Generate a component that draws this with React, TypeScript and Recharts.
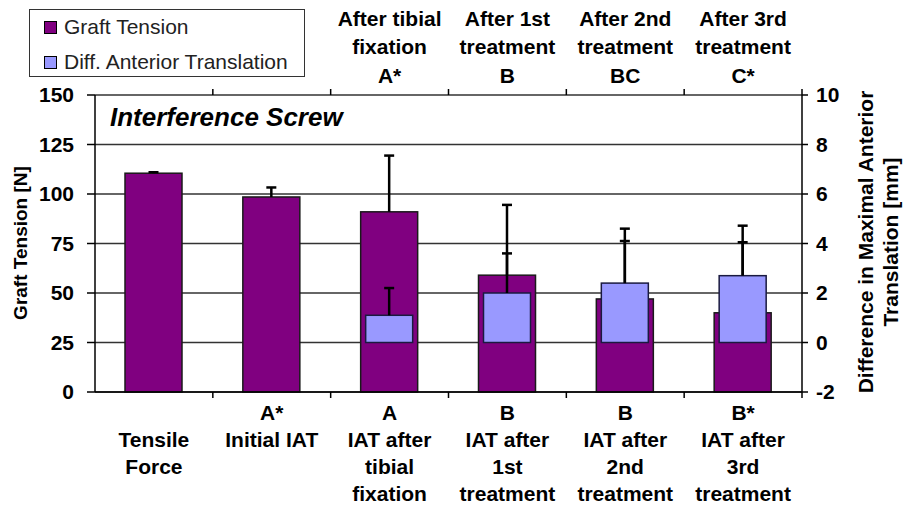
import React from 'react';
import { ComposedChart, Bar, XAxis, YAxis, CartesianGrid, Legend } from 'recharts';

const FONT = 'Arial, "Liberation Sans", Helvetica, sans-serif';

const categories = [
  'Tensile Force',
  'Initial IAT',
  'IAT after tibial fixation',
  'IAT after 1st treatment',
  'IAT after 2nd treatment',
  'IAT after 3rd treatment',
];
const bottomLabelLines: string[][] = [
  ['', 'Tensile', 'Force'],
  ['A*', 'Initial IAT'],
  ['A', 'IAT after', 'tibial', 'fixation'],
  ['B', 'IAT after', '1st', 'treatment'],
  ['B', 'IAT after', '2nd', 'treatment'],
  ['B*', 'IAT after', '3rd', 'treatment'],
];
const topLabelLines: string[][] = [
  [],
  [],
  ['After tibial', 'fixation', 'A*'],
  ['After 1st', 'treatment', 'B'],
  ['After 2nd', 'treatment', 'BC'],
  ['After 3rd', 'treatment', 'C*'],
];
const graftTension = [110.5, 98.5, 91, 59, 47, 40];
const graftTensionSD = [0.5, 4.8, 28.4, 35.5, 35.5, 44];
const diffTranslation: (number | null)[] = [null, null, 1.1, 2.0, 2.4, 2.7];
const diffTranslationSD: (number | null)[] = [null, null, 1.1, 1.6, 1.7, 1.35];
const leftTicks = [0, 25, 50, 75, 100, 125, 150];
const rightTicks = [-2, 0, 2, 4, 6, 8, 10];
const seriesNames = ['Graft Tension', 'Diff. Anterior Translation'];
const seriesColors = ['#800080', '#9999FF'];

const data = categories.map((name, i) => ({
  name,
  tension: graftTension[i],
  tensionSD: graftTensionSD[i],
  translation: diffTranslation[i],
  translationSD: diffTranslationSD[i],
}));

const BW_HALF = (802 - 95) / categories.length / 2;

// Bar with an upper-only error whisker; whisker length uses the bar's own pixel scale (height / value).
const makeBarWithError = (valueKey: string, sdKey: string, fill: string, stroke: string) => (props: any) => {
  const { x, y, width, height, payload } = props;
  const v = payload ? payload[valueKey] : null;
  const sd = payload ? payload[sdKey] : null;
  if (v == null || !isFinite(height) || height <= 0) return <g />;
  const pxPerUnit = height / v;
  const cx = x + width / 2;
  const yTop = y - (sd || 0) * pxPerUnit;
  return (
    <g>
      <rect x={x} y={y} width={width} height={height} fill={fill} stroke={stroke} strokeWidth={1.5} />
      {sd ? (
        <g stroke="#000" strokeWidth={2.5}>
          <line x1={cx} y1={y} x2={cx} y2={yTop} />
          <line x1={cx - 5} y1={yTop} x2={cx + 5} y2={yTop} />
        </g>
      ) : null}
    </g>
  );
};

const PurpleShape = makeBarWithError('tension', 'tensionSD', seriesColors[0], '#1a1a1a');
const BlueShape = makeBarWithError('translation', 'translationSD', seriesColors[1], '#1a1a40');

const BottomTick = (props: any) => {
  const { x, y, payload } = props;
  const idx = categories.indexOf(payload.value);
  const lines = bottomLabelLines[idx] || [];
  const half = payload.offset || BW_HALF;
  return (
    <g>
      <line x1={x + half} y1={y} x2={x + half} y2={y + 6} stroke="#000" strokeWidth={1.5} />
      {lines.map((t, i) =>
        t ? (
          <text key={i} x={x} y={y + 20 + i * 27.3} textAnchor="middle" dominantBaseline="central"
            fontSize={21} fontWeight="bold" fontFamily={FONT} fill="#000">{t}</text>
        ) : null
      )}
    </g>
  );
};

const TopTick = (props: any) => {
  const { x, y, payload } = props;
  const idx = categories.indexOf(payload.value);
  const lines = topLabelLines[idx] || [];
  const half = payload.offset || BW_HALF;
  return (
    <g>
      <line x1={x + half} y1={y} x2={x + half} y2={y - 6} stroke="#000" strokeWidth={1.5} />
      {lines.map((t, i) => (
        <text key={i} x={x} y={y - 77 + i * 28.5} textAnchor="middle" dominantBaseline="central"
          fontSize={21} fontWeight="bold" fontFamily={FONT} fill="#000">{t}</text>
      ))}
    </g>
  );
};

const LegendBox = () => (
  <div style={{
    width: 276, height: 68, border: '1.5px solid #333', boxSizing: 'border-box', background: '#fff',
    fontFamily: FONT, fontSize: 21, color: '#222', position: 'relative',
  }}>
    {seriesNames.map((n, i) => (
      <div key={n} style={{ position: 'absolute', left: 14, top: 4 + i * 35, height: 26, display: 'flex', alignItems: 'center', whiteSpace: 'nowrap' }}>
        <span style={{ display: 'inline-block', width: 11, height: 11, background: seriesColors[i], border: '1px solid #000', marginRight: 7 }} />
        <span>{n}</span>
      </div>
    ))}
  </div>
);

export default function App() {
  return (
    <div style={{ position: 'absolute', left: 0, top: 0, width: 904, height: 508, background: '#fff' }}>
      <ComposedChart width={904} height={508} data={data} margin={{ top: 0, right: 42, bottom: 0, left: 35 }}>
        <CartesianGrid xAxisId="bottom" yAxisId="left" vertical={false} stroke="#333" strokeWidth={1.5} />
        <XAxis xAxisId="bottom" dataKey="name" orientation="bottom" height={116} interval={0}
          tickSize={0} tickMargin={0} tickLine={false} axisLine={{ stroke: '#000', strokeWidth: 1.5 }} tick={<BottomTick />} />
        <XAxis xAxisId="top" dataKey="name" orientation="top" height={95} interval={0}
          tickSize={0} tickMargin={0} tickLine={false} axisLine={false} tick={<TopTick />} />
        <YAxis yAxisId="left" orientation="left" width={60} domain={[0, 150]} ticks={leftTicks} interval={0}
          tickSize={8} tickMargin={13} axisLine={{ stroke: '#000', strokeWidth: 1.5 }} tickLine={{ stroke: '#000', strokeWidth: 1.5 }}
          tick={{ fontSize: 21, fontWeight: 'bold', fill: '#000', fontFamily: FONT }} />
        <YAxis yAxisId="right" orientation="right" width={60} domain={[-2, 10]} ticks={rightTicks} interval={0}
          tickSize={6} tickMargin={8} axisLine={{ stroke: '#000', strokeWidth: 1.5 }} tickLine={{ stroke: '#000', strokeWidth: 1.5 }}
          tick={{ fontSize: 21, fontWeight: 'bold', fill: '#000', fontFamily: FONT }} />
        <Bar xAxisId="bottom" yAxisId="left" dataKey="tension" name={seriesNames[0]} fill={seriesColors[0]}
          barSize={57} isAnimationActive={false} shape={PurpleShape} />
        <Bar xAxisId="top" yAxisId="right" dataKey="translation" name={seriesNames[1]} fill={seriesColors[1]}
          barSize={47} isAnimationActive={false} shape={BlueShape} />
        <Legend layout="horizontal" verticalAlign="middle" align="center"
          wrapperStyle={{ left: 29, top: 9, width: 276, height: 68 }} content={() => <LegendBox />} />
        <text x={110} y={117} fontSize={26} fontWeight="bold" fontStyle="italic" fontFamily={FONT}
          dominantBaseline="central" fill="#000">Interference Screw</text>
        <text transform="translate(20,243) rotate(-90)" textAnchor="middle" dominantBaseline="central"
          fontSize={19} fontWeight="bold" fontFamily={FONT} fill="#000">Graft Tension [N]</text>
        <text transform="translate(865,242) rotate(-90)" textAnchor="middle" dominantBaseline="central"
          fontSize={21} fontWeight="bold" fontFamily={FONT} fill="#000">Difference in Maximal Anterior</text>
        <text transform="translate(890,242) rotate(-90)" textAnchor="middle" dominantBaseline="central"
          fontSize={21} fontWeight="bold" fontFamily={FONT} fill="#000">Translation [mm]</text>
      </ComposedChart>
    </div>
  );
}
